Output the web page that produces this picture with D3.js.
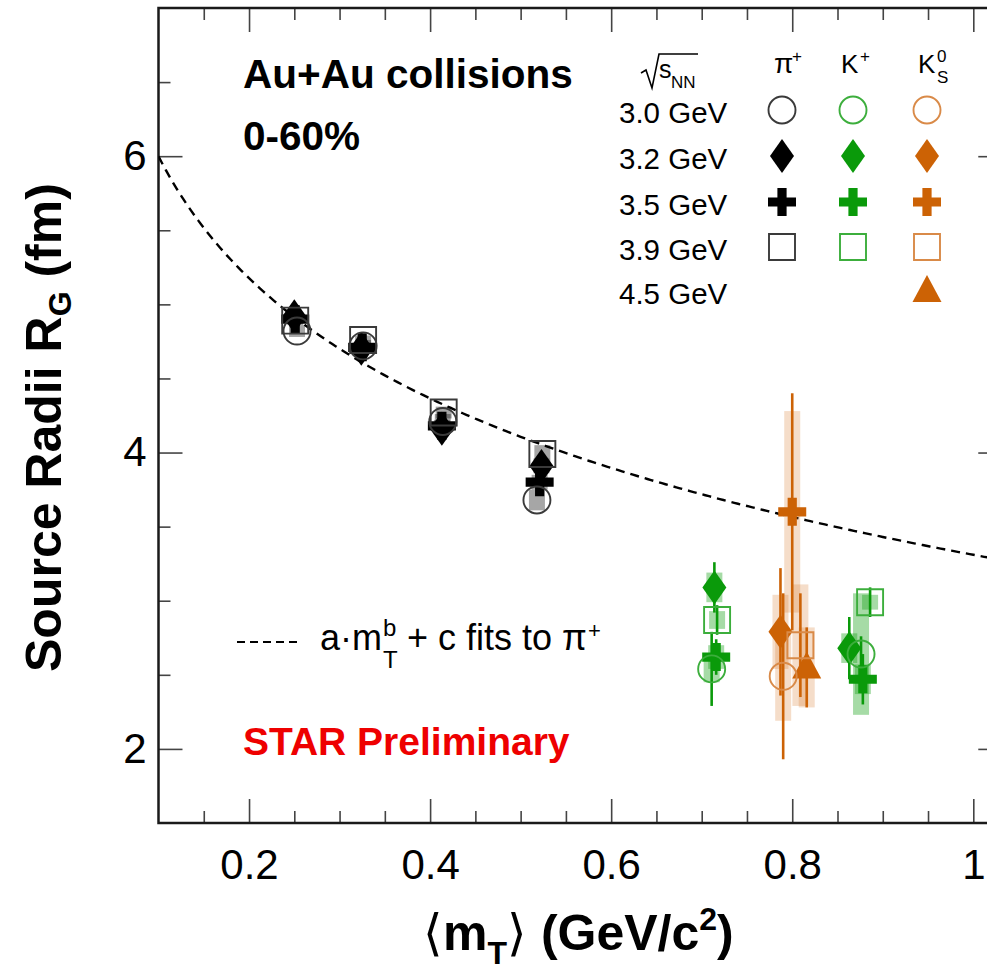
<!DOCTYPE html>
<html>
<head>
<meta charset="utf-8">
<script src="https://cdn.jsdelivr.net/npm/d3@7/dist/d3.min.js"></script>
<style>
  body { margin: 0; background: #fff; }
  svg { display: block; }
  text { font-family: "Liberation Sans", Arial, Helvetica, sans-serif; }
</style>
</head>
<body>
<svg id="chart" width="987" height="970"></svg>
<script>
// ---- collision energies and marker style per energy ----
const energies = ["3.0 GeV", "3.2 GeV", "3.5 GeV", "3.9 GeV", "4.5 GeV"];
const markerTypes = ["circle", "diamond", "cross", "square", "triangle"];

// ---- pi+ (3.0, 3.2, 3.5, 3.9 GeV), four mT bins each ----
const piMt = [
  [0.253, 0.326, 0.414, 0.518],
  [0.250, 0.324, 0.413, 0.523],
  [0.251, 0.325, 0.413, 0.521],
  [0.251, 0.326, 0.415, 0.524]
];
const piR = [
  [4.82, 4.72, 4.21, 3.68],
  [4.92, 4.70, 4.16, 3.91],
  [4.90, 4.71, 4.18, 3.80],
  [4.89, 4.76, 4.27, 3.99]
];
const piSys = [
  [0.04, 0.04, 0.05, 0.07],
  [0.03, 0.03, 0.04, 0.05],
  [0.03, 0.03, 0.04, 0.05],
  [0.03, 0.03, 0.04, 0.06]
];

// ---- K+ (3.0, 3.2, 3.5, 3.9 GeV), two mT bins each ----
const kpMt = [
  [0.711, 0.876],
  [0.714, 0.863],
  [0.716, 0.878],
  [0.717, 0.886]
];
const kpR = [
  [2.54, 2.64],
  [3.09, 2.68],
  [2.62, 2.47],
  [2.87, 2.99]
];
const kpStat = [
  [0.25, 0.12],
  [0.17, 0.21],
  [0.12, 0.17],
  [0.10, 0.10]
];
const kpSys = [
  [0.09, 0.41],
  [0.10, 0.10],
  [0.08, 0.10],
  [0.06, 0.05]
];

// ---- K0S (3.0, 3.2, 3.5, 3.9, 4.5 GeV), one mT bin each ----
const k0Mt   = [0.790, 0.787, 0.800, 0.809, 0.816];
const k0R    = [2.49, 2.79, 3.60, 2.70, 2.55];
const k0Stat = [0.56, 0.43, 0.80, 0.35, 0.27];
const k0Sys  = [0.30, 0.25, 0.68, 0.41, 0.27];

// ---- a*mT^b + c fit to pi+ ----
const fitA = 57.06, fitB = -0.02, fitC = -53.75;

// ---- axis ticks ----
const xMajor = [0.2, 0.4, 0.6, 0.8, 1.0];
const xMinor = [0.15, 0.25, 0.3, 0.35, 0.45, 0.5, 0.55, 0.65, 0.7, 0.75, 0.85, 0.9, 0.95];
const yMajor = [2, 4, 6];
const yMinor = [2.5, 3, 3.5, 4.5, 5, 5.5, 6.5];

// ---- colours ----
const piCol = { fill: "#000000", line: "#3a3a3a", box: "rgba(0,0,0,0.35)" };
const kpCol = { fill: "#0a9a0a", line: "#3cae3c", box: "rgba(20,160,20,0.38)" };
const k0Col = { fill: "#cc6205", line: "#d98a48", box: "rgba(214,120,40,0.25)" };

const svg = d3.select("#chart");
const xMaxFrame = 1.032;
const x = d3.scaleLinear().domain([0.1, 1.0]).range([158.5, 973.3]);
const y = d3.scaleLinear().domain([1.5, 7]).range([823, 8]);
const FONT = '"Liberation Sans", Arial, Helvetica, sans-serif';

// ---------- axes with inward ticks on all four sides ----------
function styleAxis(g, size) {
  g.select(".domain").remove();
  g.selectAll(".tick line").attr("stroke", "#444").attr("stroke-width", 1.6);
  g.attr("font-family", FONT).attr("font-size", size);
}
const fmtX = d => (d === 1 ? "1" : d3.format(".1f")(d));
styleAxis(svg.append("g").attr("transform", `translate(0,${y(1.5)})`)
  .call(d3.axisBottom(x).tickValues(xMajor).tickSizeInner(-24).tickSizeOuter(0).tickPadding(26).tickFormat(fmtX)), 42);
styleAxis(svg.append("g").attr("transform", `translate(0,${y(1.5)})`)
  .call(d3.axisBottom(x).tickValues(xMinor).tickSizeInner(-12).tickSizeOuter(0).tickFormat("")), 10);
styleAxis(svg.append("g").attr("transform", `translate(0,${y(7)})`)
  .call(d3.axisTop(x).tickValues(xMajor).tickSizeInner(-24).tickSizeOuter(0).tickFormat("")), 10);
styleAxis(svg.append("g").attr("transform", `translate(0,${y(7)})`)
  .call(d3.axisTop(x).tickValues(xMinor).tickSizeInner(-12).tickSizeOuter(0).tickFormat("")), 10);
styleAxis(svg.append("g").attr("transform", `translate(${x(0.1)},0)`)
  .call(d3.axisLeft(y).tickValues(yMajor).tickSizeInner(-24).tickSizeOuter(0).tickPadding(12).tickFormat(d3.format("d"))), 42);
styleAxis(svg.append("g").attr("transform", `translate(${x(0.1)},0)`)
  .call(d3.axisLeft(y).tickValues(yMinor).tickSizeInner(-12).tickSizeOuter(0).tickFormat("")), 10);
styleAxis(svg.append("g").attr("transform", `translate(${x(xMaxFrame)},0)`)
  .call(d3.axisRight(y).tickValues(yMajor).tickSizeInner(-24).tickSizeOuter(0).tickFormat("")), 10);
styleAxis(svg.append("g").attr("transform", `translate(${x(xMaxFrame)},0)`)
  .call(d3.axisRight(y).tickValues(yMinor).tickSizeInner(-12).tickSizeOuter(0).tickFormat("")), 10);

// frame
svg.append("rect")
  .attr("x", x(0.1)).attr("y", y(7))
  .attr("width", x(xMaxFrame) - x(0.1)).attr("height", y(1.5) - y(7))
  .attr("fill", "none").attr("stroke", "#1a1a1a").attr("stroke-width", 2.5);

svg.append("clipPath").attr("id", "plotClip").append("rect")
  .attr("x", x(0.1)).attr("y", y(7))
  .attr("width", x(xMaxFrame) - x(0.1)).attr("height", y(1.5) - y(7));
const plot = svg.append("g").attr("clip-path", "url(#plotClip)");

// ---------- fit curve ----------
const fitXs = d3.range(0.1, xMaxFrame + 0.0001, 0.004);
plot.append("path")
  .datum(fitXs)
  .attr("d", d3.line().x(d => x(d)).y(d => y(fitA * Math.pow(d, fitB) + fitC)))
  .attr("fill", "none").attr("stroke", "#000").attr("stroke-width", 2.4)
  .attr("stroke-dasharray", "9,6");

// ---------- point table ----------
const points = [];
piMt.forEach((row, e) => row.forEach((m, i) =>
  points.push({ sp: "pi", e, mt: m, r: piR[e][i], stat: 0, sys: piSys[e][i], col: piCol })));
kpMt.forEach((row, e) => row.forEach((m, i) =>
  points.push({ sp: "kp", e, mt: m, r: kpR[e][i], stat: kpStat[e][i], sys: kpSys[e][i], col: kpCol })));
k0Mt.forEach((m, e) =>
  points.push({ sp: "k0", e, mt: m, r: k0R[e], stat: k0Stat[e], sys: k0Sys[e], col: k0Col }));

function markerPath(type) {
  switch (type) {
    case "circle":  return "M-13.5,0a13.5,13.5 0 1,0 27,0a13.5,13.5 0 1,0 -27,0Z";
    case "diamond": return "M0,-17L12,0L0,17L-12,0Z";
    case "cross": { const a = 14, t = 4.6;
      return `M${-t},${-a}H${t}V${-t}H${a}V${t}H${t}V${a}H${-t}V${t}H${-a}V${-t}H${-t}Z`; }
    case "square":  return "M-13,-13H13V13H-13Z";
    case "triangle": return "M0,-16L14.5,11L-14.5,11Z";
  }
}
const isOpen = t => t === "circle" || t === "square";

// systematic boxes
plot.append("g").selectAll("rect").data(points).join("rect")
  .attr("x", d => x(d.mt) - 8).attr("width", 16)
  .attr("y", d => y(d.r + d.sys)).attr("height", d => y(d.r - d.sys) - y(d.r + d.sys))
  .attr("fill", d => d.col.box);

// statistical error bars
plot.append("g").selectAll("line").data(points.filter(d => d.stat > 0)).join("line")
  .attr("x1", d => x(d.mt)).attr("x2", d => x(d.mt))
  .attr("y1", d => y(d.r + d.stat)).attr("y2", d => y(d.r - d.stat))
  .attr("stroke", d => d.col.fill).attr("stroke-width", 2.6);

// markers: filled first, open outlines on top
const ordered = points.filter(d => !isOpen(markerTypes[d.e])).concat(points.filter(d => isOpen(markerTypes[d.e])));
plot.append("g").selectAll("path").data(ordered).join("path")
  .attr("transform", d => `translate(${x(d.mt)},${y(d.r)})`)
  .attr("d", d => markerPath(markerTypes[d.e]))
  .attr("fill", d => isOpen(markerTypes[d.e]) ? "none" : d.col.fill)
  .attr("stroke", d => isOpen(markerTypes[d.e]) ? d.col.line : "none")
  .attr("stroke-width", 1.9);

// ---------- labels inside the frame ----------
svg.append("text").attr("x", 243).attr("y", 88)
  .attr("font-size", 40.5).attr("font-weight", "bold").text("Au+Au collisions");
svg.append("text").attr("x", 243).attr("y", 150)
  .attr("font-size", 40.5).attr("font-weight", "bold").text("0-60%");
svg.append("text").attr("x", 243).attr("y", 755)
  .attr("font-size", 39).attr("font-weight", "bold").attr("fill", "#ee0000").text("STAR Preliminary");

// fit legend
svg.append("line").attr("x1", 237).attr("x2", 300).attr("y1", 642).attr("y2", 642)
  .attr("stroke", "#000").attr("stroke-width", 2).attr("stroke-dasharray", "8,5");
{
  const fs = 36, base = 650;
  const t1 = svg.append("text").attr("x", 320).attr("y", base).attr("font-size", fs).text("a·m");
  const x1 = 320 + t1.node().getComputedTextLength() + 1;
  svg.append("text").attr("x", x1).attr("y", base - 14).attr("font-size", 24).text("b");
  svg.append("text").attr("x", x1).attr("y", base + 18).attr("font-size", 24).text("T");
  const t2 = svg.append("text").attr("x", x1 + 24).attr("y", base).attr("font-size", fs).text("+ c fits to π");
  const x2 = x1 + 24 + t2.node().getComputedTextLength() + 1;
  svg.append("text").attr("x", x2).attr("y", base - 12).attr("font-size", 22).text("+");
}

// ---------- legend: rows = energies, columns = species ----------
const legCols = [782, 853, 927];
const legRowY = [110, 156, 202, 247, 291];
const legCols3 = [piCol, kpCol, k0Col];
const leg = svg.append("g");
// header: sqrt(s_NN)
leg.append("path").attr("d", "M641,73L646,70L652,88L659,54L698,54")
  .attr("fill", "none").attr("stroke", "#000").attr("stroke-width", 1.6);
leg.append("text").attr("x", 659).attr("y", 78).attr("font-size", 25).text("s");
leg.append("text").attr("x", 671).attr("y", 88).attr("font-size", 17).text("NN");
// species headers
leg.append("text").attr("x", 774).attr("y", 73).attr("font-size", 28).text("π");
leg.append("text").attr("x", 792).attr("y", 62).attr("font-size", 17).text("+");
leg.append("text").attr("x", 841).attr("y", 73).attr("font-size", 26).text("K");
leg.append("text").attr("x", 860).attr("y", 62).attr("font-size", 17).text("+");
leg.append("text").attr("x", 918).attr("y", 73).attr("font-size", 26).text("K");
leg.append("text").attr("x", 937).attr("y", 62).attr("font-size", 17).text("0");
leg.append("text").attr("x", 937).attr("y", 83).attr("font-size", 17).text("S");
// rows
energies.forEach((en, e) => {
  leg.append("text").attr("x", 619).attr("y", legRowY[e] + 13).attr("font-size", 29.5).text(en);
  const cols = e < 4 ? [0, 1, 2] : [2];
  cols.forEach(c => {
    const t = markerTypes[e];
    leg.append("path")
      .attr("transform", `translate(${legCols[c]},${legRowY[e]})`)
      .attr("d", markerPath(t))
      .attr("fill", isOpen(t) ? "none" : legCols3[c].fill)
      .attr("stroke", isOpen(t) ? legCols3[c].line : "none")
      .attr("stroke-width", 1.9);
  });
});

// ---------- axis titles ----------
{
  const t = svg.append("text").attr("x", 423).attr("y", 950).attr("font-size", 50).attr("font-weight", "bold");
  t.append("tspan").attr("font-weight", "normal").text("⟨");
  t.append("tspan").text("m");
  t.append("tspan").attr("font-size", 32).attr("dy", 14).text("T");
  t.append("tspan").attr("font-weight", "normal").attr("dy", -14).text("⟩");
  t.append("tspan").text(" (GeV/c");
  t.append("tspan").attr("font-size", 32).attr("dy", -20).text("2");
  t.append("tspan").attr("dy", 20).text(")");
}
{
  const t = svg.append("text").attr("transform", "translate(61,672) rotate(-90)")
    .attr("font-size", 50).attr("font-weight", "bold");
  t.append("tspan").text("Source Radii R");
  t.append("tspan").attr("font-size", 32).attr("dy", 10).text("G");
  t.append("tspan").attr("dy", -10).text(" (fm)");
}
</script>
</body>
</html>
